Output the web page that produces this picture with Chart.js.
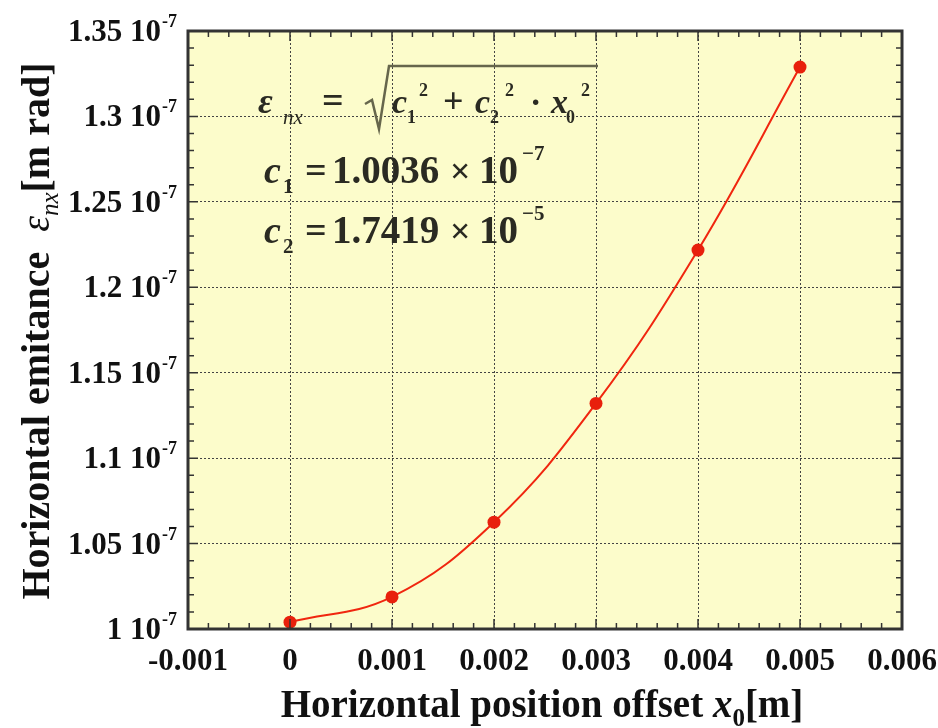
<!DOCTYPE html>
<html>
<head>
<meta charset="utf-8">
<script src="https://cdn.jsdelivr.net/npm/chart.js@4.4.1/dist/chart.umd.min.js"></script>
<style>
  html, body { margin: 0; padding: 0; background: #fff; }
  #wrap { width: 938px; height: 728px; position: relative; }
</style>
</head>
<body>
<div id="wrap"><canvas id="emitChart"></canvas></div>
<script>
// values
const offsets = [0, 0.001, 0.002, 0.003, 0.004, 0.005];
const emittance = [1.0040e-7, 1.0188e-7, 1.0625e-7, 1.1320e-7, 1.2218e-7, 1.3289e-7];

// axis ticks
const xTicks = [-0.001, 0, 0.001, 0.002, 0.003, 0.004, 0.005, 0.006];
const xTickLabels = ['-0.001', '0', '0.001', '0.002', '0.003', '0.004', '0.005', '0.006'];
const yTicks = [1.0e-7, 1.05e-7, 1.1e-7, 1.15e-7, 1.2e-7, 1.25e-7, 1.3e-7, 1.35e-7];
const yTickLabels = ['1', '1.05', '1.1', '1.15', '1.2', '1.25', '1.3', '1.35'];
const yTickExp = '-7';

// fit coefficients shown in the box
const fitC1 = '1.0036';
const fitC1Exp = '-7';
const fitC2 = '1.7419';
const fitC2Exp = '-5';

const SERIF = '"Liberation Serif", "Times New Roman", serif';
const f = (style, size) => style + ' ' + size + 'px ' + SERIF;

function runsWidth(ctx, runs) {
    let w = 0;
    runs.forEach(r => { ctx.font = r.font; w += ctx.measureText(r.t).width + (r.dx || 0); });
    return w;
}
function drawRuns(ctx, x, y, runs) {
    runs.forEach(r => {
        ctx.font = r.font;
        x += (r.dx || 0);
        ctx.fillText(r.t, x, y + (r.dy || 0));
        x += ctx.measureText(r.t).width;
    });
    return x;
}

const framePlugin = {
    id: 'frame',
    beforeDraw(chart) {
        const { ctx, chartArea: a } = chart;
        ctx.save();
        ctx.fillStyle = '#fcfccb';
        ctx.fillRect(a.left, a.top, a.right - a.left, a.bottom - a.top);
        ctx.restore();
    },
    afterDraw(chart) {
        const { ctx, chartArea: a } = chart;
        const xs = chart.scales.x, ys = chart.scales.y;
        ctx.save();
        ctx.strokeStyle = '#333';

        // minor / major ticks, pointing inwards
        ctx.lineWidth = 1.5;
        ctx.beginPath();
        for (let i = -5; i <= 30; i++) {
            const px = xs.getPixelForValue(i * 0.0002);
            const len = i % 5 === 0 ? 10 : 6;
            ctx.moveTo(px, a.bottom); ctx.lineTo(px, a.bottom - len);
            ctx.moveTo(px, a.top); ctx.lineTo(px, a.top + len);
        }
        for (let i = 100; i <= 135; i++) {
            const py = ys.getPixelForValue(i * 1e-9);
            const len = i % 5 === 0 ? 10 : 6;
            ctx.moveTo(a.left, py); ctx.lineTo(a.left + len, py);
            ctx.moveTo(a.right, py); ctx.lineTo(a.right - len, py);
        }
        ctx.stroke();

        ctx.lineWidth = 3;
        ctx.strokeRect(a.left, a.top, a.right - a.left, a.bottom - a.top);

        ctx.fillStyle = '#111';
        ctx.textBaseline = 'alphabetic';

        // x tick labels
        xs.ticks.forEach((t, i) => {
            const px = xs.getPixelForValue(t.value);
            ctx.font = f('bold', 31);
            const w = ctx.measureText(xTickLabels[i]).width;
            ctx.fillText(xTickLabels[i], px - w / 2, 670);
        });

        // y tick labels with power of ten
        ys.ticks.forEach((t, i) => {
            const py = ys.getPixelForValue(t.value);
            const runs = [
                { t: yTickLabels[i] + ' 10', font: f('bold', 31) },
                { t: yTickExp, font: f('bold', 18), dy: -14, dx: 1 }
            ];
            drawRuns(ctx, 177 - runsWidth(ctx, runs), py + 10, runs);
        });

        // x axis title
        const xRuns = [
            { t: 'Horizontal position offset ', font: f('bold', 39) },
            { t: 'x', font: f('bold italic', 39) },
            { t: '0', font: f('bold', 25), dy: 9 },
            { t: '[m]', font: f('bold', 39) }
        ];
        drawRuns(ctx, 542 - runsWidth(ctx, xRuns) / 2, 717, xRuns);

        // y axis title
        const yRuns = [
            { t: 'Horizontal emitance  ', font: f('bold', 40) },
            { t: '\u03b5', font: f('italic', 40) },
            { t: 'nx', font: f('italic', 25), dy: 9 },
            { t: '[m rad]', font: f('bold', 40) }
        ];
        ctx.save();
        ctx.translate(49, 331);
        ctx.rotate(-Math.PI / 2);
        drawRuns(ctx, -runsWidth(ctx, yRuns) / 2, 0, yRuns);
        ctx.restore();

        // fit formula
        ctx.fillStyle = '#2a2a22';
        const put = (t, font, x, y) => { ctx.font = font; ctx.fillText(t, x, y); };
        put('\u03b5', f('bold italic', 36), 258, 113);
        put('nx', f('italic', 21), 283, 124);
        put('=', f('bold', 38), 322, 113);
        put('c', f('bold italic', 34), 392, 113);
        put('1', f('bold', 18), 407, 123);
        put('2', f('bold', 18), 419, 96);
        put('+', f('bold', 36), 443, 113);
        put('c', f('bold italic', 34), 475, 113);
        put('2', f('bold', 18), 490, 123);
        put('2', f('bold', 18), 505, 96);
        put('\u00b7', f('bold', 34), 530, 113);
        put('x', f('bold italic', 34), 551, 113);
        put('0', f('bold', 18), 566, 123);
        put('2', f('bold', 18), 581, 96);
        ctx.strokeStyle = '#66664c';
        ctx.lineWidth = 2.5;
        ctx.beginPath();
        ctx.moveTo(365, 104); ctx.lineTo(372, 100); ctx.lineTo(379, 129);
        ctx.lineTo(389, 66); ctx.lineTo(598, 66);
        ctx.stroke();

        [[fitC1, fitC1Exp, '1', 183], [fitC2, fitC2Exp, '2', 243]].forEach(([v, e, sub, base]) => {
            put('c', f('bold italic', 38), 264, base);
            put(sub, f('bold', 21), 283, base + 10);
            put('=', f('bold', 38), 305, base);
            put(v, f('bold', 39), 332, base);
            put('\u00d7', f('bold', 36), 450, base);
            put('10', f('bold', 39), 479, base);
            put('\u2212' + e.slice(1), f('bold', 21), 522, base - 23);
        });
        ctx.restore();
    }
};

new Chart(document.getElementById('emitChart'), {
    type: 'line',
    data: {
        datasets: [{
            label: 'Horizontal emitance',
            data: offsets.map((x, i) => ({ x: x, y: emittance[i] })),
            borderColor: '#f0260f',
            backgroundColor: '#e8200c',
            borderWidth: 2,
            pointRadius: 6.5,
            pointBorderWidth: 0,
            pointBackgroundColor: '#e8200c',
            tension: 0.4,
            fill: false
        }]
    },
    options: {
        responsive: true,
        maintainAspectRatio: false,
        animation: false,
        layout: { padding: { left: 188, right: 36, top: 31, bottom: 99 } },
        plugins: {
            legend: { display: false },
            tooltip: { enabled: false }
        },
        scales: {
            x: {
                type: 'linear',
                min: -0.001,
                max: 0.006,
                afterBuildTicks: s => { s.ticks = xTicks.map(v => ({ value: v })); },
                ticks: { display: false },
                grid: { color: '#444', lineWidth: 1, drawTicks: false },
                border: { display: false, dash: [2, 2] }
            },
            y: {
                type: 'linear',
                min: 1.0e-7,
                max: 1.35e-7,
                afterBuildTicks: s => { s.ticks = yTicks.map(v => ({ value: v })); },
                ticks: { display: false },
                grid: { color: '#444', lineWidth: 1, drawTicks: false },
                border: { display: false, dash: [2, 2] }
            }
        }
    },
    plugins: [framePlugin]
});
</script>
</body>
</html>
